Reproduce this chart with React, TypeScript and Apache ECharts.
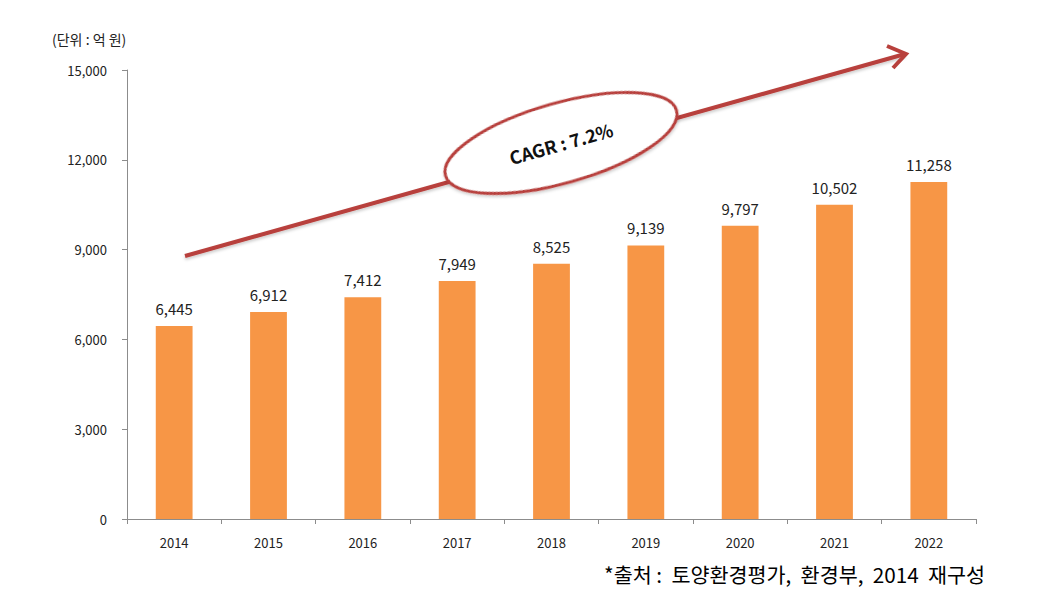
import React, { useEffect, useRef } from "react";
import * as echarts from "echarts";

const categories = ["2014", "2015", "2016", "2017", "2018", "2019", "2020", "2021", "2022"];
const values = [6445, 6912, 7412, 7949, 8525, 9139, 9797, 10502, 11258];
const unitLabel = "(단위 : 억 원)";
const cagrLabel = "CAGR : 7.2%";
const sourceLabel = "*출처 :  토양환경평가,  환경부,  2014  재구성";

const FONT = "'Noto Sans CJK KR', 'Noto Sans', sans-serif";

export default function App() {
  const ref = useRef<HTMLDivElement>(null);
  useEffect(() => {
    if (!ref.current) return;
    const chart = echarts.init(ref.current, undefined, { renderer: "svg" });
    const ang = (15.8 * Math.PI) / 180;
    chart.setOption({
      animation: false,
      backgroundColor: "#ffffff",
      grid: { left: 127, right: 72, top: 70, bottom: 85 },
      xAxis: {
        type: "category",
        data: categories,
        axisLine: { lineStyle: { color: "#8c8c8c" } },
        axisTick: { show: true, alignWithLabel: false, length: 5, lineStyle: { color: "#8c8c8c" } },
        axisLabel: { color: "#222", fontSize: 13, fontFamily: FONT, margin: 17 },
      },
      yAxis: {
        type: "value",
        min: 0,
        max: 15000,
        interval: 3000,
        axisLine: { show: true, lineStyle: { color: "#8c8c8c" } },
        axisTick: { show: true, length: 5, lineStyle: { color: "#8c8c8c" } },
        splitLine: { show: false },
        axisLabel: {
          color: "#222",
          fontSize: 13,
          fontFamily: FONT,
          margin: 20,
          formatter: (v: number) => v.toLocaleString("en-US"),
        },
      },
      series: [
        {
          type: "bar",
          data: values,
          barWidth: "39%",
          itemStyle: { color: "#f79646" },
          label: {
            show: true,
            position: "top",
            distance: 10,
            color: "#222",
            fontSize: 15,
            fontFamily: FONT,
            formatter: (p: any) => Number(p.value).toLocaleString("en-US"),
          },
        },
      ],
      graphic: [
        {
          type: "text",
          left: 52,
          top: 32,
          style: { text: unitLabel, fontSize: 14, fontFamily: FONT, fill: "#222" },
        },
        {
          type: "line",
          shape: { x1: 185, y1: 256, x2: 905, y2: 54 },
          style: { stroke: "#b8403c", lineWidth: 4, shadowBlur: 3, shadowColor: "rgba(0,0,0,0.2)", shadowOffsetY: 2 },
          z: 10,
        },
        {
          type: "polyline",
          shape: { points: [[887, 46], [906, 54], [893, 68]] },
          style: { stroke: "#b8403c", lineWidth: 4, fill: "none", lineJoin: "miter" },
          z: 10,
        },
        {
          type: "ellipse",
          shape: { cx: 0, cy: 0, rx: 120, ry: 40 },
          x: 561,
          y: 143,
          rotation: ang,
          style: { fill: "#ffffff", stroke: "#b8403c", lineWidth: 3, shadowBlur: 3, shadowColor: "rgba(0,0,0,0.2)", shadowOffsetY: 2 },
          z: 11,
        },
        {
          type: "text",
          x: 561,
          y: 143,
          rotation: ang,
          style: {
            text: cagrLabel,
            fontSize: 18,
            fontWeight: "bold",
            fontFamily: FONT,
            fill: "#111",
            align: "center",
            verticalAlign: "middle",
          },
          z: 12,
        },
        {
          type: "text",
          left: 604,
          top: 564,
          style: { text: sourceLabel, fontSize: 20.7, fontFamily: FONT, fill: "#000" },
        },
      ],
    });
    return () => chart.dispose();
  }, []);
  return <div ref={ref} style={{ width: 1048, height: 604, position: "absolute", left: 0, top: 0 }} />;
}
